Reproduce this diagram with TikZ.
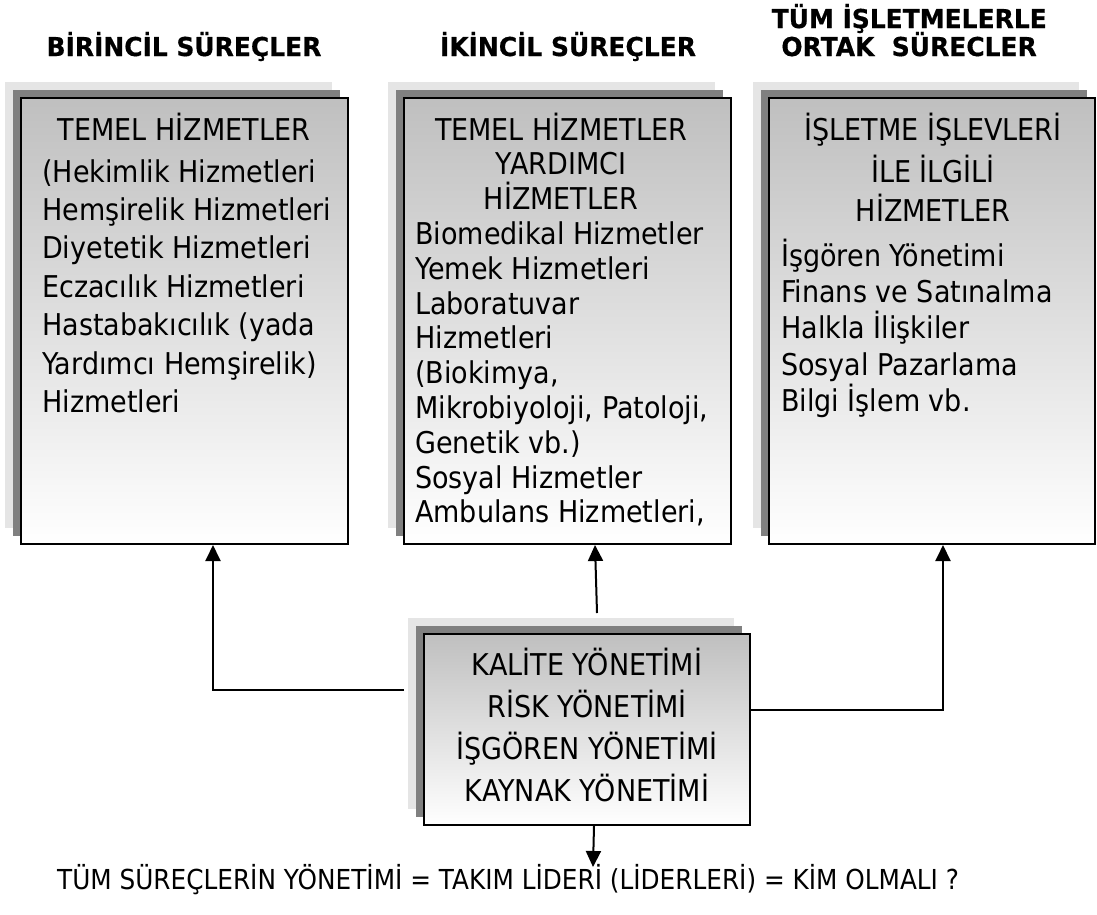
\documentclass[tikz,border=0pt]{standalone}
\usepackage{fontspec}
\setmainfont{DejaVu Sans}[FakeStretch=0.9]
\newfontfamily\titlefont{DejaVu Sans}[FakeStretch=0.96, FakeBold=0.5]
\usetikzlibrary{arrows.meta}

% a panel with two stepped drop shadows behind it
\newcommand\drawpanel[5]{%
  \node[shadowlight, minimum width=#4pt, minimum height=#5pt] (#1-l) at (#2-15,#3-15) {};
  \node[shadowdark,  minimum width=#4pt, minimum height=#5pt] (#1-d) at (#2-7,#3-7) {};
  \node[panel,       minimum width=#4pt, minimum height=#5pt] (#1) at (#2,#3) {};
}

\begin{document}
\begin{tikzpicture}[x=1pt,y=-1pt,
  shadowlight/.style={fill=black!10, draw=none, anchor=north west, inner sep=0, outer sep=0},
  shadowdark/.style={fill=black!50, draw=none, anchor=north west, inner sep=0, outer sep=0},
  panel/.style={draw=black, line width=2pt, shading=axis, top color=black!25, bottom color=white,
                anchor=north west, inner sep=0},
  body/.style={inner sep=0, font=\fontsize{30}{36}\selectfont},
  lline/.style={body, anchor=base west},
  cline/.style={body, anchor=base},
  title/.style={inner sep=0, font=\titlefont\bfseries\fontsize{26}{31}\selectfont},
  arr/.style={line width=2pt, -{Triangle[length=16pt,width=15pt]}}
]
\useasboundingbox (0,0) rectangle (1097,914);

% column headings
\node[title, anchor=base] (h1) at (184,56) {BİRİNCİL SÜREÇLER};
\node[title, anchor=base] (h2) at (568,56) {İKİNCİL SÜREÇLER};
\node[title, anchor=base east] (h3a) at (1047,28) {TÜM İŞLETMELERLE};
\node[title, anchor=base east] (h3b) at (1037,56) {ORTAK\ \ SÜRECLER};

% panels
\drawpanel{b1}{20}{97}{327}{446}
\drawpanel{b2}{403}{97}{327}{446}
\drawpanel{b3}{768}{97}{326}{446}
\drawpanel{b4}{423}{633}{326}{191}

% primary processes
\node[cline] (b1c) at (184,140) {TEMEL HİZMETLER};
\foreach \t/\y [count=\i] in {{{(Hekimlik Hizmetleri}}/182, {Hemşirelik Hizmetleri}/220.5,
    {Diyetetik Hizmetleri}/258.5, {Eczacılık Hizmetleri}/297.5, {{Hastabakıcılık (yada}}/335.5,
    {{Yardımcı Hemşirelik)}}/374.5, {Hizmetleri}/412.5}
  \node[lline] (b1t\i) at (42,\y) {\t};

% secondary processes
\foreach \t/\y [count=\i] in {{TEMEL HİZMETLER}/140, {YARDIMCI}/174.8, {HİZMETLER}/209.6}
  \node[cline] (b2c\i) at (561,\y) {\t};
\foreach \t/\y [count=\i] in {{Biomedikal Hizmetler}/244.4, {Yemek Hizmetleri}/279.2,
    {Laboratuvar}/314, {Hizmetleri}/348.8, {{(Biokimya,}}/383.6,
    {{Mikrobiyoloji, Patoloji,}}/418.4, {{Genetik vb.)}}/453.2, {Sosyal Hizmetler}/488,
    {{Ambulans Hizmetleri,}}/522.8}
  \node[lline] (b2t\i) at (415,\y) {\t};

% processes shared by all organisations
\foreach \t/\y [count=\i] in {{İŞLETME İŞLEVLERİ}/140, {İLE İLGİLİ}/182, {HİZMETLER}/221}
  \node[cline] (b3c\i) at (933,\y) {\t};
\foreach \t/\y [count=\i] in {{İşgören Yönetimi}/266, {Finans ve Satınalma}/302,
    {Halkla İlişkiler}/338, {Sosyal Pazarlama}/375, {Bilgi İşlem vb.}/411}
  \node[lline] (b3t\i) at (781,\y) {\t};

% management box
\foreach \t/\y [count=\i] in {{KALİTE YÖNETİMİ}/675, {RİSK YÖNETİMİ}/717,
    {İŞGÖREN YÖNETİMİ}/759, {KAYNAK YÖNETİMİ}/801}
  \node[cline] (b4t\i) at (587,\y) {\t};

% closing line
\node[lline, font=\fontsize{27.5}{33}\selectfont] (foot) at (57,889)
  {TÜM SÜREÇLERİN YÖNETİMİ = TAKIM LİDERİ (LİDERLERİ) = KİM OLMALI ?};

% connectors
\coordinate (lstart) at (404,690);
\coordinate (mstart) at (597,613);
\coordinate (fend) at (593,867);
\draw[arr] (lstart) -| ([xshift=28.5pt]b1.south);
\draw[arr] (mstart) -- ([xshift=27.5pt]b2.south);
\draw[arr] ([yshift=20pt]b4.east) -| ([xshift=11pt]b3.south);
\draw[arr] ([xshift=7pt]b4.south) -- (fend);
\end{tikzpicture}
\end{document}
